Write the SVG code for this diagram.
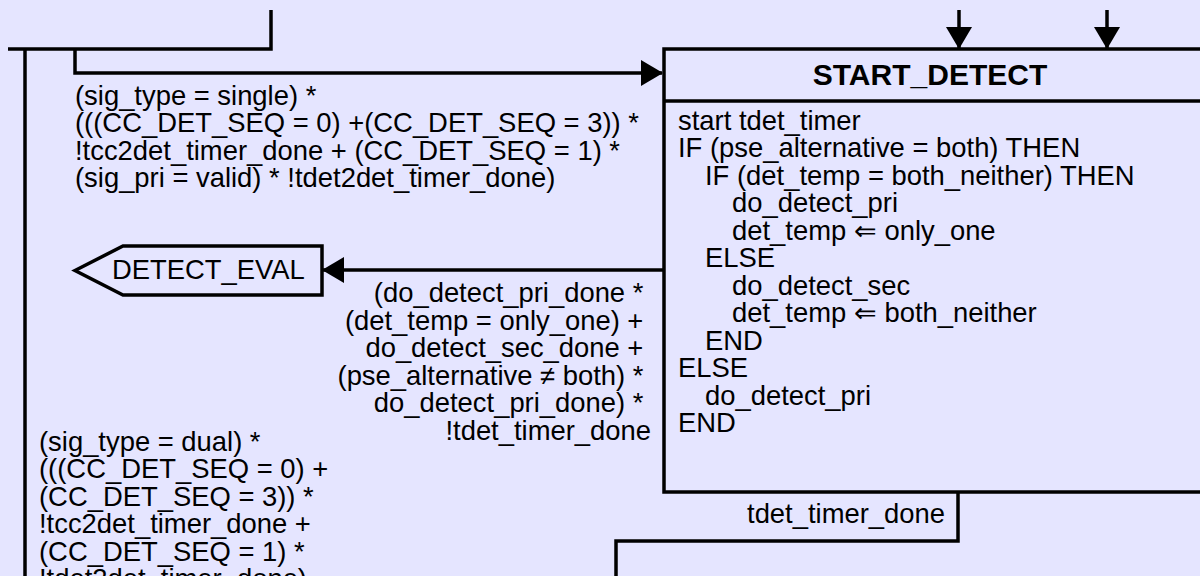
<svg xmlns="http://www.w3.org/2000/svg" width="1200" height="576" viewBox="0 0 1200 576">
<style>
.ln{fill:none;stroke:#000;stroke-width:3.5}
.t{font-family:"Liberation Sans",Arial,sans-serif;font-size:27.4px;fill:#000}
.r{text-anchor:end}
.b{font-weight:bold;font-size:30px;text-anchor:middle}
</style>
<defs>
<marker id="ah" markerUnits="userSpaceOnUse" markerWidth="22" markerHeight="26" refX="21" refY="13" orient="auto" viewBox="0 0 22 26">
<path d="M0,0 L22,13 L0,26 z" fill="#000"/>
</marker>
</defs>
<rect width="1200" height="576" fill="#E5E5FF"/>
<g id="connectors">
<path class="ln" d="M271,10 V49 H8"/>
<path class="ln" d="M25,49 V576"/>
<path class="ln" d="M75,49 V73 H662" marker-end="url(#ah)"/>
<path class="ln" d="M959,10 V48" marker-end="url(#ah)"/>
<path class="ln" d="M1107,10 V48" marker-end="url(#ah)"/>
<path class="ln" d="M664,270 H323" marker-end="url(#ah)"/>
<path class="ln" d="M958,492 V541 H616 V576"/>
</g>
<g id="start_detect">
<rect class="ln" x="664" y="49" width="560" height="443" fill="#E5E5FF"/>
<line class="ln" x1="664" y1="101" x2="1224" y2="101"/>
<text class="t b" x="930" y="85">START_DETECT</text>
<text class="t">
<tspan x="678" y="129.5">start tdet_timer</tspan>
<tspan x="678" y="157">IF (pse_alternative = both) THEN</tspan>
<tspan x="705" y="184.5">IF (det_temp = both_neither) THEN</tspan>
<tspan x="732" y="212">do_detect_pri</tspan>
<tspan x="732" y="239.5">det_temp ⇐ only_one</tspan>
<tspan x="705" y="267">ELSE</tspan>
<tspan x="732" y="294.5">do_detect_sec</tspan>
<tspan x="732" y="322">det_temp ⇐ both_neither</tspan>
<tspan x="705" y="349.5">END</tspan>
<tspan x="678" y="377">ELSE</tspan>
<tspan x="705" y="404.5">do_detect_pri</tspan>
<tspan x="678" y="432">END</tspan>
</text>
</g>
<g id="detect_eval">
<polygon class="ln" points="75,270.5 123,246 322,246 322,295 123,295"/>
<text class="t" x="112" y="279">DETECT_EVAL</text>
</g>
<g id="labels">
<text class="t">
<tspan x="75" y="105">(sig_type = single) *</tspan>
<tspan x="75" y="132">(((CC_DET_SEQ = 0) +(CC_DET_SEQ = 3)) *</tspan>
<tspan x="75" y="159.5">!tcc2det_timer_done + (CC_DET_SEQ = 1) *</tspan>
<tspan x="75" y="187">(sig_pri = valid) * !tdet2det_timer_done)</tspan>
</text>
<text class="t r">
<tspan x="651" y="302">(do_detect_pri_done *</tspan>
<tspan x="651" y="329.5">(det_temp = only_one) +</tspan>
<tspan x="651" y="357">do_detect_sec_done +</tspan>
<tspan x="651" y="384.5">(pse_alternative ≠ both) *</tspan>
<tspan x="651" y="412">do_detect_pri_done) *</tspan>
<tspan x="651" y="439.5">!tdet_timer_done</tspan>
</text>
<text class="t">
<tspan x="39" y="450.5">(sig_type = dual) *</tspan>
<tspan x="39" y="478">(((CC_DET_SEQ = 0) +</tspan>
<tspan x="39" y="505.5">(CC_DET_SEQ = 3)) *</tspan>
<tspan x="39" y="533">!tcc2det_timer_done +</tspan>
<tspan x="39" y="560.5">(CC_DET_SEQ = 1) *</tspan>
<tspan x="39" y="588">!tdet2det_timer_done)</tspan>
</text>
<text class="t r" x="945" y="523">tdet_timer_done</text>
</g>
</svg>
